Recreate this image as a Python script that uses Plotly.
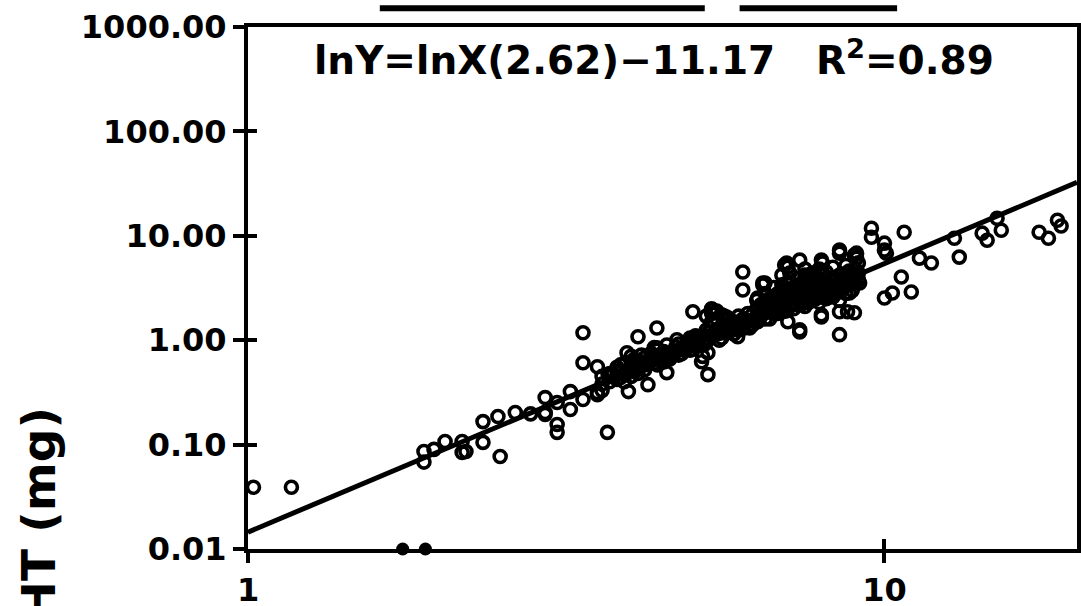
import plotly.graph_objects as go
import math

# ---- data ----
# open circles: body length (x) vs dry weight in mg (y)
len_x = [
    1.02, 1.17,
    1.89, 1.89, 1.96, 2.04, 2.17, 2.17, 2.20, 2.34, 2.34, 2.47, 2.49, 2.63, 2.78,
    2.93, 2.93, 2.93, 3.06, 3.06, 3.06, 3.21, 3.21, 3.36, 3.36, 3.54, 3.36, 3.54, 3.54,
    3.67, 3.68, 3.71, 3.84, 3.94, 3.96, 4.10, 4.39, 4.25, 4.24, 4.39, 4.55, 4.72, 4.95,
    5.00, 5.16, 5.28, 5.28, 5.45, 5.88, 5.99, 5.99, 6.14, 6.49, 6.32, 6.60, 6.32, 7.05,
    7.36, 6.97, 7.36, 7.02, 7.55, 7.99, 7.96, 8.41, 8.50, 8.50, 8.81, 8.97, 9.04, 9.14,
    10.0, 10.29, 10.07, 9.54, 9.54, 10.74, 10.0, 10.0, 11.35, 11.85, 10.63, 11.02,
    12.88, 13.11, 14.24, 14.50, 15.03, 15.26, 7.05, 7.96, 8.50, 8.97, 6.44, 7.96, 7.36,
    6.44, 7.02, 5.18, 8.50, 9.04, 8.75,
    17.5, 18.1, 18.7, 18.95,
    # dense band along the fitted line
    3.6, 3.6, 3.6, 3.8, 3.8, 3.8, 3.9, 3.9, 3.9, 4.0, 4.0, 4.0, 4.0, 4.1, 4.1,
    4.2, 4.2, 4.2, 4.3, 4.3, 4.4, 4.4, 4.4, 4.5, 4.5, 4.5, 4.6, 4.6, 4.7, 4.7,
    4.8, 4.8, 4.9, 4.9, 5.0, 5.0, 5.0, 5.1, 5.1, 5.2, 5.2, 5.2, 5.37, 5.65, 5.3,
    5.5, 5.5, 5.5, 5.6, 5.6, 5.6, 5.8, 5.8, 5.8, 6.0, 6.0, 6.0, 6.2, 6.2, 6.2,
    6.4, 6.4, 6.4, 6.6, 6.6, 6.6, 6.6, 6.8, 6.8, 6.8, 6.8, 7.0, 7.0, 7.0, 7.0,
    7.2, 7.2, 7.2, 7.2, 7.4, 7.4, 7.4, 7.4, 7.6, 7.6, 7.6, 7.6, 7.8, 7.8, 7.8, 7.8,
    8.0, 8.0, 8.0, 8.0, 8.2, 8.2, 8.2, 8.4, 8.4, 8.4, 8.6, 8.6, 8.6, 8.8, 8.8,
    9.0, 9.0, 9.0,
    3.7, 3.7, 3.85, 3.85, 4.05, 4.05, 4.05, 4.15, 4.15, 4.35, 4.35, 4.35,
    4.55, 4.55, 4.55, 4.75, 4.75, 4.75, 4.95, 4.95, 4.95, 5.05, 5.05,
    5.25, 5.25, 5.25, 5.25, 5.35, 5.35, 5.35, 5.35, 5.45, 5.45, 5.45,
    5.55, 5.55, 5.55, 5.7, 5.7, 5.7, 5.9, 5.9, 5.9, 6.1, 6.1, 6.1,
    6.3, 6.3, 6.3, 6.3, 6.5, 6.5, 6.5, 6.5, 6.7, 6.7, 6.7, 6.7,
    6.9, 6.9, 6.9, 6.9, 6.9, 7.1, 7.1, 7.1, 7.1, 7.1, 7.3, 7.3, 7.3, 7.3,
    7.5, 7.5, 7.5, 7.5, 7.5, 7.7, 7.7, 7.7, 7.7, 7.9, 7.9, 7.9, 7.9, 7.9,
    8.1, 8.1, 8.1, 8.1, 8.3, 8.3, 8.3, 8.3, 8.5, 8.5, 8.5, 8.5,
    8.7, 8.7, 8.7, 8.7, 8.9, 8.9, 8.9, 9.1, 9.1, 9.1,
]
wt_y = [
    0.039, 0.039,
    0.086, 0.068, 0.090, 0.107, 0.107, 0.084, 0.086, 0.166, 0.105, 0.186, 0.077, 0.203, 0.197,
    0.282, 0.203, 0.194, 0.156, 0.131, 0.253, 0.322, 0.217, 1.18, 0.608, 0.557, 0.270, 0.315, 0.30,
    0.131, 0.468, 0.45, 0.50, 0.759, 0.322, 1.08, 1.31, 0.375, 0.582, 0.846, 0.489, 1.01, 1.05,
    1.87, 0.622, 0.759, 0.468, 1.83, 1.08, 4.50, 3.03, 1.31, 3.53, 2.54, 2.43, 1.50, 1.50,
    1.26, 5.24, 5.85, 3.53, 4.03, 5.48, 1.75, 2.83, 1.13, 1.87, 2.83, 1.83, 6.11, 3.53,
    2.54, 2.83, 6.82, 11.8, 9.70, 10.8, 8.50, 7.29, 6.11, 5.48, 4.03, 2.90,
    9.48, 6.25, 10.6, 9.08, 14.7, 11.3, 5.01, 5.85, 7.29, 6.53, 3.38, 1.67, 1.20,
    3.53, 5.48, 0.70, 6.82, 6.82, 1.87,
    10.8, 9.48, 14.1, 12.4,
    0.38, 0.45, 0.33, 0.42, 0.50, 0.55, 0.47, 0.60, 0.40, 0.52, 0.62, 0.45, 0.70, 0.55, 0.48,
    0.60, 0.68, 0.52, 0.63, 0.75, 0.66, 0.58, 0.80, 0.70, 0.78, 0.62, 0.74, 0.66, 0.78, 0.86,
    0.82, 0.74, 0.86, 0.95, 0.90, 1.00, 0.82, 0.95, 1.05, 1.00, 1.12, 0.90, 1.96, 1.67, 1.20,
    1.16, 1.30, 1.00, 1.20, 1.40, 1.70, 1.30, 1.50, 1.15, 1.45, 1.60, 1.30, 1.55, 1.75, 1.40,
    1.70, 1.90, 2.20, 1.85, 2.10, 2.50, 1.60, 2.00, 2.40, 2.80, 1.80, 2.16, 2.60, 3.00, 1.90,
    2.30, 2.70, 3.20, 2.00, 2.50, 2.90, 3.50, 2.20, 2.60, 3.10, 3.70, 2.30, 2.80, 3.30, 2.50, 4.00,
    3.00, 3.50, 2.60, 4.20, 3.20, 3.80, 2.80, 3.40, 4.00, 2.90, 3.60, 4.30, 3.10, 3.80, 4.60,
    4.10, 4.80, 3.60,
    0.40, 0.48, 0.44, 0.58, 0.50, 0.58, 0.66, 0.62, 0.72, 0.60, 0.70, 0.85,
    0.66, 0.74, 0.90, 0.72, 0.80, 0.92, 0.80, 0.88, 1.00, 0.92, 1.10,
    0.95, 1.05, 1.25, 1.70, 1.10, 1.50, 1.80, 2.00, 1.20, 1.60, 1.90,
    1.05, 1.25, 1.75, 1.20, 1.40, 1.60, 1.25, 1.40, 1.70, 1.35, 1.50, 1.80,
    1.50, 1.70, 2.00, 2.40, 1.60, 1.90, 2.30, 2.80, 1.80, 2.20, 2.60, 3.20,
    1.90, 2.30, 2.70, 3.40, 4.20, 2.10, 2.50, 3.00, 3.60, 4.40, 2.20, 2.60, 3.30, 3.90,
    2.10, 2.80, 3.40, 4.20, 4.80, 2.40, 3.00, 3.60, 4.40, 2.30, 2.70, 3.20, 3.90, 4.80,
    2.50, 3.00, 3.60, 4.50, 2.60, 3.20, 3.90, 5.00, 2.40, 3.00, 3.50, 4.20,
    2.80, 3.30, 4.00, 5.20, 3.00, 3.60, 4.40, 3.80, 4.40, 5.50,
]

# filled points sitting on the lower axis (values at the 0.01 floor)
floor_x = [1.75, 1.90]
floor_y = [0.01, 0.01]

# fitted regression line end points
fit_x = [1.0, 20.07]
fit_y = [0.0145, 32.5]

equation_text = "lnY=lnX(2.62)\u221211.17   R<sup>2</sup>=0.89"
y_title = "DRY WEIGHT (mg)"

y_tick_vals = [0.01, 0.1, 1, 10, 100, 1000]
y_tick_text = ["0.01", "0.10", "1.00", "10.00", "100.00", "1000.00"]
x_tick_vals = [1, 10]
x_tick_text = ["1", "10"]

FONT = "DejaVu Sans"
xr = [0, math.log10(fit_x[1])]
yr = [-2, 3]

fig = go.Figure()
fig.add_trace(go.Scatter(x=fit_x, y=fit_y, mode="lines",
                         line=dict(color="black", width=5),
                         hoverinfo="skip", showlegend=False))
fig.add_trace(go.Scatter(x=len_x, y=wt_y, mode="markers",
                         marker=dict(symbol="circle", size=12, color="rgba(0,0,0,0)",
                                     line=dict(color="black", width=3.6)),
                         cliponaxis=False, showlegend=False))
fig.add_trace(go.Scatter(x=floor_x, y=floor_y, mode="markers",
                         marker=dict(symbol="circle", size=13, color="black"),
                         cliponaxis=False, showlegend=False))
# dummy trace for overlay axes (inner tick marks)
fig.add_trace(go.Scatter(x=[None], y=[None], xaxis="x2", yaxis="y2",
                         showlegend=False, hoverinfo="skip"))

tickfont = dict(family=FONT, size=32, color="black", weight="bold")

fig.update_layout(
    width=1081, height=606,
    margin=dict(l=248, r=4, t=27, b=57, autoexpand=False),
    paper_bgcolor="white", plot_bgcolor="white",
    xaxis=dict(type="log", range=xr, showgrid=False, zeroline=False,
               showline=True, linecolor="black", linewidth=4, mirror=True,
               tickmode="array", tickvals=x_tick_vals, ticktext=x_tick_text,
               ticks="outside", ticklen=10, tickwidth=4, tickcolor="black",
               tickfont=tickfont, automargin=False),
    yaxis=dict(type="log", range=yr, showgrid=False, zeroline=False,
               showline=True, linecolor="black", linewidth=4, mirror=True,
               tickmode="array", tickvals=y_tick_vals, ticktext=y_tick_text,
               ticks="outside", ticklen=11, tickwidth=4, tickcolor="black",
               tickfont=tickfont, automargin=False),
    xaxis2=dict(type="log", range=xr, overlaying="x", anchor="y2", side="bottom",
                showgrid=False, zeroline=False, showline=False,
                tickmode="array", tickvals=x_tick_vals, showticklabels=False,
                ticks="inside", ticklen=10, tickwidth=4, tickcolor="black",
                automargin=False),
    yaxis2=dict(type="log", range=yr, overlaying="y", anchor="x2", side="left",
                showgrid=False, zeroline=False, showline=False,
                tickmode="array", tickvals=y_tick_vals, showticklabels=False,
                ticks="inside", ticklen=9, tickwidth=4, tickcolor="black",
                automargin=False),
    annotations=[
        dict(text=equation_text, xref="paper", yref="paper", x=0.49, y=0.94,
             xanchor="center", yanchor="middle", showarrow=False,
             font=dict(family=FONT, size=39, color="black", weight="bold")),
        dict(text=y_title, xref="paper", yref="paper", x=-0.2533, y=0.275,
             xanchor="center", yanchor="top", textangle=-90, showarrow=False,
             font=dict(family=FONT, size=47, color="black", weight="bold")),
    ],
    shapes=[
        dict(type="line", xref="paper", yref="paper", x0=0.159, x1=0.551,
             y0=1.036, y1=1.036, line=dict(color="black", width=6)),
        dict(type="line", xref="paper", yref="paper", x0=0.593, x1=0.783,
             y0=1.036, y1=1.036, line=dict(color="black", width=6)),
    ],
)

fig.write_html("out.html",
               config={"displayModeBar": False},
               post_script="document.body.style.margin='0';document.body.style.overflow='hidden';")
